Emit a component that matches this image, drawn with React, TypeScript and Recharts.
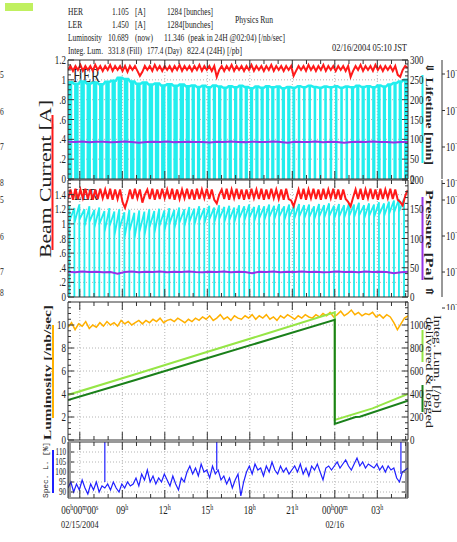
import React from "react";
import { ComposedChart, Line, Area, XAxis, YAxis, CartesianGrid, ReferenceLine } from "recharts";

// time = hours since 02/15/2004 05:10 JST (24H window)
const STEP = 0.175; // sample spacing of the beam current arrays
const hourTicks = Array.from({ length: 24 }, (_, i) => +(0.8333 + i).toFixed(4));
const xMajor = hourTicks.filter((_, i) => i % 3 === 0);
const xTickLabels = ["06h00m00s", "09h", "12h", "15h", "18h", "21h", "00h00m", "03h"];
const xDateLabels = ["02/15/2004", "", "", "", "", "", "02/16", ""];

// HER: injection stripes [start, end] (lifetime reads 0 while injecting)
const herStripes = [
  [0.0, 0.3], [0.43, 0.75], [0.87, 1.19], [1.31, 1.62], [1.75, 2.07], [2.19, 2.5], [2.63, 2.95], [3.07, 3.38], [3.5, 3.82], [3.94, 4.26],
  [4.38, 4.69], [4.81, 5.13], [5.25, 5.56], [5.69, 6.01], [6.13, 6.44], [6.57, 6.88], [7.0, 7.32], [7.44, 7.75], [7.88, 8.19], [8.31, 8.6],
  [8.72, 8.96], [9.1, 9.33], [9.47, 9.7], [9.84, 10.07], [10.22, 10.45], [10.59, 10.82], [10.97, 11.2], [11.34, 11.57], [11.72, 11.95], [12.09, 12.32],
  [12.47, 12.7], [12.84, 13.07], [13.22, 13.45], [13.59, 13.82], [13.97, 14.2], [14.34, 14.57], [14.72, 14.95], [15.09, 15.32], [15.47, 15.7], [15.84, 16.04],
  [16.22, 16.4], [16.59, 16.77], [16.97, 17.15], [17.34, 17.52], [17.72, 17.9], [18.09, 18.27], [18.47, 18.65], [18.84, 19.02], [19.22, 19.4], [19.59, 19.77],
  [19.97, 20.2], [20.34, 20.57], [20.72, 20.95], [21.09, 21.32], [21.47, 21.7], [21.84, 22.07], [22.22, 22.45], [22.59, 22.82], [22.97, 23.2], [23.34, 23.57],
  [23.72, 24.0],
];
// HER lifetime [min] per stripe
const herLife = [
  244, 240, 246, 241, 243, 239, 245, 248, 255, 252, 246, 240, 243, 238, 241, 236, 239, 235, 238, 234,
  236, 232, 235, 231, 236, 233, 230, 234, 231, 235, 232, 229, 233, 230, 234, 231, 233, 229, 232, 230,
  234, 231, 235, 232, 230, 233, 231, 234, 230, 233, 231, 235, 232, 234, 231, 236, 233, 238, 242, 246, 250,
];
// HER beam current [A], every STEP hours
const herCurrent = [
  1.1, 1.14, 1.09, 1.14, 1.1, 1.15, 1.09, 1.14, 1.1, 1.14, 1.09, 1.15, 1.1, 1.14, 1.09, 1.14, 1.1, 1.15, 1.09, 1.14,
  1.1, 1.14, 1.09, 1.14, 1.08, 1.14, 1.1, 1.14, 1.09, 1.04, 1.08, 1.14, 1.1, 1.14, 1.09, 1.15, 1.1, 1.14, 1.09, 1.14,
  1.1, 1.14, 1.09, 1.14, 1.1, 1.15, 1.09, 1.14, 1.1, 1.14, 1.09, 1.14, 1.1, 1.15, 1.09, 1.14, 1.1, 1.14, 1.09, 1.14,
  1.03, 1.1, 1.14, 1.09, 1.14, 1.1, 1.15, 1.09, 1.14, 1.1, 1.14, 1.09, 1.14, 1.1, 1.15, 1.09, 1.14, 1.1, 1.14, 1.09,
  1.14, 1.1, 1.15, 1.09, 1.14, 1.1, 1.14, 1.09, 1.14, 1.1, 1.14, 1.04, 1.09, 1.14, 1.1, 1.14, 1.09, 1.15, 1.1, 1.14,
  1.09, 1.14, 1.1, 1.15, 1.09, 1.14, 1.1, 1.14, 1.09, 1.14, 1.1, 1.14, 1.09, 1.14, 1.03, 1.09, 1.14, 1.1, 1.15, 1.09,
  1.14, 1.1, 1.14, 1.09, 1.15, 1.1, 1.14, 1.09, 1.14, 1.1, 1.14, 1.09, 1.14, 1.05, 1.03, 1.1, 1.14, 1.12,
];
// HER pressure [x1e-7 Pa], every 0.5 h
const herPress = [
  1.4, 1.37, 1.41, 1.36, 1.39, 1.4, 1.34, 1.38, 1.41, 1.37,
  1.3, 1.38, 1.4, 1.37, 1.41, 1.36, 1.38, 1.4, 1.37, 1.38,
  1.32, 1.4, 1.37, 1.41, 1.38, 1.36, 1.4, 1.37, 1.38, 1.41,
  1.37, 1.3, 1.4, 1.37, 1.38, 1.41, 1.36, 1.4, 1.37, 1.31,
  1.38, 1.4, 1.37, 1.41, 1.37, 1.38, 1.32, 1.37, 1.38,
];

// LER beam current [A], every STEP hours
const lerCurrent = [
  1.34, 1.47, 1.33, 1.48, 1.34, 1.47, 1.35, 1.48, 1.34, 1.47, 1.33, 1.47, 1.34, 1.48, 1.35, 1.47, 1.34, 1.48, 1.33, 1.47,
  1.34, 1.47, 1.3, 1.22, 1.33, 1.47, 1.34, 1.48, 1.35, 1.47, 1.29, 1.4, 1.47, 1.34, 1.48, 1.33, 1.47, 1.34, 1.48, 1.35,
  1.47, 1.34, 1.48, 1.33, 1.47, 1.34, 1.47, 1.35, 1.48, 1.34, 1.47, 1.33, 1.48, 1.34, 1.47, 1.35, 1.48, 1.34, 1.47, 1.33,
  1.28, 1.4, 1.47, 1.34, 1.48, 1.33, 1.47, 1.35, 1.48, 1.34, 1.47, 1.33, 1.47, 1.34, 1.48, 1.35, 1.47, 1.34, 1.48, 1.33,
  1.47, 1.34, 1.48, 1.35, 1.47, 1.34, 1.47, 1.33, 1.48, 1.34, 1.32, 1.24, 1.35, 1.47, 1.34, 1.48, 1.33, 1.47, 1.35, 1.48,
  1.34, 1.47, 1.33, 1.48, 1.34, 1.47, 1.35, 1.48, 1.34, 1.47, 1.33, 1.47, 1.34, 1.3, 1.24, 1.36, 1.47, 1.34, 1.48, 1.33,
  1.47, 1.35, 1.48, 1.34, 1.47, 1.33, 1.48, 1.34, 1.47, 1.35, 1.48, 1.34, 1.47, 1.33, 1.3, 1.25, 1.38, 1.46,
];
// LER injections: time, lifetime [min] just before and just after
const lerInj = [
  0.1, 0.45, 0.8, 1.16, 1.51, 1.86, 2.21, 2.57, 2.92, 3.27, 3.62, 3.98, 4.33, 4.68, 5.03, 5.39, 5.74, 6.09, 6.44, 6.8,
  7.15, 7.5, 7.85, 8.21, 8.56, 8.91, 9.26, 9.62, 9.97, 10.32, 10.67, 11.03, 11.38, 11.73, 12.08, 12.44, 12.79, 13.14, 13.49, 13.85,
  14.2, 14.55, 14.9, 15.26, 15.61, 15.96, 16.31, 16.67, 17.02, 17.37, 17.72, 18.08, 18.43, 18.78, 19.13, 19.49, 19.84, 20.19, 20.54, 20.9,
  21.25, 21.6, 21.95, 22.31, 22.66, 23.01, 23.36, 23.72,
];
const lerLifeBefore = [
  156, 152, 158, 150, 155, 149, 153, 147, 152, 146, 150, 145, 149, 144, 148, 146, 150, 147, 151, 148,
  152, 149, 153, 150, 154, 151, 155, 152, 156, 153, 157, 154, 156, 153, 157, 155, 158, 154, 157, 155,
  158, 156, 159, 155, 158, 156, 159, 157, 158, 155, 159, 157, 160, 156, 159, 157, 160, 158, 161, 157,
  160, 158, 162, 160, 163, 165, 167, 168,
];
const lerLifeAfter = [
  130, 126, 132, 120, 128, 118, 124, 110, 120, 104, 116, 100, 112, 98, 110, 104, 118, 108, 120, 112,
  124, 116, 126, 120, 128, 122, 130, 125, 132, 127, 133, 128, 131, 127, 134, 130, 135, 129, 134, 131,
  136, 132, 137, 131, 136, 133, 137, 134, 136, 132, 137, 135, 138, 133, 137, 135, 138, 136, 139, 134,
  138, 136, 140, 138, 142, 144, 146, 148,
];
// LER pressure [x1e-7 Pa], every 0.5 h
const lerPress = [
  1.02, 0.98, 1.04, 1.0, 1.02, 0.98, 1.0, 0.9, 1.0, 1.04,
  0.98, 1.02, 1.0, 1.04, 0.98, 1.02, 1.0, 1.04, 1.0, 0.98,
  1.02, 1.0, 1.04, 0.98, 1.02, 1.0, 0.93, 1.02, 1.0, 1.04,
  0.98, 1.02, 1.0, 1.04, 1.0, 1.02, 0.98, 1.0, 1.04, 1.0,
  1.02, 0.98, 1.04, 1.0, 1.02, 1.0, 0.93, 0.98, 1.02,
];

// Luminosity [/nb/sec], every 0.25 h
const luminosity = [
  9.8, 10.2, 9.6, 10.1, 9.9, 10.3, 9.7, 10.0, 9.8,
  10.2, 9.9, 10.3, 10.0, 10.2, 9.9, 10.4, 10.1, 10.3, 10.0, 10.2, 10.4,
  10.1, 10.4, 10.2, 10.5, 10.3, 10.6, 10.2, 10.4, 10.5, 10.3, 10.6, 10.4, 10.2, 10.5, 10.3, 10.6,
  10.4, 10.7, 10.5, 10.8, 10.4, 10.6, 10.9, 10.5, 10.7, 10.4, 10.8, 10.6, 10.5, 10.8, 10.6, 10.9,
  10.5, 10.8, 10.6, 10.9, 10.5, 10.7, 10.4, 10.8, 10.6, 10.9, 10.7, 10.5, 10.8, 10.6, 10.9, 10.7,
  10.6, 10.9, 10.7, 11.0, 10.8, 11.1, 10.7, 10.9, 11.2, 10.8, 11.0, 11.3, 10.9, 11.1, 10.8, 11.0,
  10.9, 11.1, 10.7, 10.9, 10.6, 10.9, 10.7, 10.2, 9.6, 10.1, 10.6, 10.8,
];
// Integrated luminosity [/pb]: [time, value]
const integDelivered = [[0, 392], [4.7, 570], [9.4, 750], [14.1, 928], [18.83, 1110], [18.83, 175], [21.5, 275], [24, 400]];
const integLogged = [[0, 348], [4.7, 520], [9.4, 695], [14.1, 870], [18.83, 1045], [18.83, 140], [20.3, 200], [20.6, 202], [24, 342]];

// Specific luminosity [%], every 0.2 h
const specL = [
  92, 95, 90, 94, 91, 96, 92, 89, 94, 91, 95, 90, 93, 92,
  94, 91, 95, 92, 90, 94, 92, 95, 93,
  94, 97, 93, 99, 96, 101, 95, 98, 94, 97, 95, 99,
  96, 93, 98, 94, 91, 97, 95,
  100, 103, 99, 102, 98, 104, 100, 101, 97, 103, 99, 101,
  96, 98, 94, 97, 92, 96, 99, 88, 95,
  100, 103, 99, 104, 101, 102, 98, 103, 100, 105, 101, 99, 103, 100, 102, 99,
  101, 103, 100, 104, 99, 102, 98, 103, 101, 104, 100, 96, 102, 103, 101,
  103, 105, 102, 104, 106, 103, 101, 104, 107, 103, 105, 102, 104, 103,
  102, 104, 101, 103, 100, 103, 101, 102,
  97, 95, 100, 101, 102,
];
const specSpikes = [[2.6, 95], [10.5, 101], [23.5, 99]];

const herStripeData = herStripes.flatMap(([s, e], i) => [{ t: s, v: herLife[i] }, { t: e, v: 0 }]);
const herLifeData = herStripes.flatMap(([s, e], i) => [{ t: s, v: herLife[i] }, { t: e, v: herLife[i] }]);
const herCurData = herCurrent.map((v, i) => ({ t: i * STEP, v }));
const herPressData = herPress.map((v, i) => ({ t: i * 0.5, v: v * 1e-7 }));
const lerCurData = lerCurrent.map((v, i) => ({ t: i * STEP, v }));
const lerLifeData = lerInj.flatMap((t, i) => [{ t, v: lerLifeBefore[i] }, { t, v: 0 }, { t, v: lerLifeAfter[i] }]);
const lerPressData = lerPress.map((v, i) => ({ t: i * 0.5, v: v * 1e-7 }));
const lumData = luminosity.map((v, i) => ({ t: i * 0.25, v }));
const delivData = integDelivered.map(([t, v]) => ({ t, v }));
const loggedData = integLogged.map(([t, v]) => ({ t, v }));
const specData = specL.map((v, i) => ({ t: i * 0.2, v }));

const SERIF = "'Liberation Serif', 'DejaVu Serif', serif";
const INK = "#222";
const FRAME = "#333";
const GRID = "#b4b4b4";
const RED = "#ff1a1a";
const CYAN = "#22eeee";
const PURPLE = "#9632e6";
const ORANGE = "#ffb000";
const LGREEN = "#96e646";
const DGREEN = "#1a801a";
const BLUE = "#2020ff";

const range = (a: number, b: number, s: number) => {
  const out: number[] = [];
  for (let v = a; v <= b + 1e-9; v += s) out.push(+v.toFixed(4));
  return out;
};
const fmtA = (v: number) => {
  const s = String(+v.toFixed(2));
  return s.startsWith("0.") ? s.slice(1) : s;
};

const Sq = ({ x, y, size = 10, anchor = "start", weight = "normal", len, children }: any) => (
  <text
    transform={`translate(${x},${y}) scale(0.75,1)`}
    fontSize={size}
    textAnchor={anchor}
    fontWeight={weight}
    fontFamily={SERIF}
    fill={INK}
    {...(len ? { textLength: len / 0.75, lengthAdjust: "spacingAndGlyphs" } : {})}
  >
    {children}
  </text>
);
const Rot = ({ x, y, angle, size, len, weight = "normal", family = SERIF, children }: any) => (
  <text transform={`translate(${x},${y}) rotate(${angle}) scale(1,0.75)`} fontSize={size} fontWeight={weight} fontFamily={family} fill={INK} textLength={len} lengthAdjust="spacingAndGlyphs">
    {children}
  </text>
);

const xTick = (dir: number, labels: boolean) => (props: any) => {
  const { x, y, payload } = props;
  const mi = xMajor.findIndex((m) => Math.abs(m - payload.value) < 1e-3);
  const len = mi >= 0 ? 8 : 4;
  const parts = mi >= 0 ? [...xTickLabels[mi].matchAll(/(\d+)([hms])/g)] : [];
  return (
    <g>
      <line x1={x} x2={x} y1={y} y2={y + dir * len} stroke={FRAME} />
      {labels && mi >= 0 && (
        <text transform={`translate(${x},${y + 16}) scale(0.75,1)`} fontSize={12} textAnchor="middle" fontFamily={SERIF} fill={INK}>
          {parts.map((m, k) => (
            <React.Fragment key={k}>
              <tspan dy={k ? 4 : 0}>{m[1]}</tspan>
              <tspan dy={-4} fontSize={8}>{m[2]}</tspan>
            </React.Fragment>
          ))}
        </text>
      )}
      {labels && mi >= 0 && xDateLabels[mi] && (
        <text transform={`translate(${x},${y + 30}) scale(0.75,1)`} fontSize={11} textAnchor="middle" fontFamily={SERIF} fill={INK}>
          {xDateLabels[mi]}
        </text>
      )}
    </g>
  );
};

const yTick = (side: "left" | "right", majors: number[], fmt: ((v: number) => string) | null, size = 12) => (props: any) => {
  const { x, y, payload } = props;
  const v = payload.value;
  const major = majors.some((m) => Math.abs(m - v) < 1e-6);
  const dir = side === "left" ? 1 : -1;
  const len = major ? 6 : 3;
  const label = major && fmt ? fmt(v) : "";
  return (
    <g>
      <line x1={x} x2={x + dir * len} y1={y} y2={y} stroke={FRAME} />
      {label && (
        <text transform={`translate(${side === "left" ? x - 2 : x + 2},${y + size / 3}) scale(0.75,1)`} textAnchor={side === "left" ? "end" : "start"} fontSize={size} fontFamily={SERIF} fill={INK}>
          {label}
        </text>
      )}
    </g>
  );
};

const logTick = (props: any) => {
  const { x, y, payload } = props;
  const exp = Math.round(Math.log10(payload.value));
  return (
    <g>
      <line x1={x} x2={x + 3} y1={y} y2={y} stroke={FRAME} />
      <text transform={`translate(${x + 4},${y + 4}) scale(0.75,1)`} fontSize={12} fontFamily={SERIF} fill={INK}>
        10<tspan dy={-5} fontSize={8}>{`\u2212${-exp}`}</tspan>
      </text>
    </g>
  );
};

const timeAxes = (labels: boolean) => [
  <XAxis key="xb" xAxisId={0} type="number" dataKey="t" domain={[0, 24]} allowDataOverflow ticks={hourTicks} interval={0} height={1} tickSize={0} tickMargin={0} tickLine={false} axisLine={{ stroke: FRAME }} tick={xTick(-1, labels)} />,
  <XAxis key="xt" xAxisId="top" orientation="top" type="number" dataKey="t" domain={[0, 24]} allowDataOverflow ticks={hourTicks} interval={0} height={1} tickSize={0} tickMargin={0} tickLine={false} axisLine={{ stroke: FRAME }} tick={xTick(1, false)} />,
];

const axisBase = { interval: 0 as const, tickSize: 0, tickMargin: 0, tickLine: false, axisLine: { stroke: FRAME }, allowDataOverflow: true, type: "number" as const };

export default function App() {
  return (
    <div style={{ position: "absolute", left: 0, top: 0, width: 457, height: 542, background: "#fff" }}>
      <svg width={457} height={542} style={{ position: "absolute", left: 0, top: 0 }}>
        <rect x={5} y={3} width={28} height={8} fill="#c0f060" />
        <Sq x={68} y={15}>HER</Sq>
        <Sq x={112} y={15}>1.105</Sq>
        <Sq x={135} y={15}>[A]</Sq>
        <Sq x={167} y={15} len={46}>1284 [bunches]</Sq>
        <Sq x={68} y={28}>LER</Sq>
        <Sq x={112} y={28}>1.450</Sq>
        <Sq x={135} y={28}>[A]</Sq>
        <Sq x={167} y={28} len={46}>1284[bunches]</Sq>
        <Sq x={235} y={23} len={38}>Physics Run</Sq>
        <Sq x={68} y={41} len={34}>Luminosity</Sq>
        <Sq x={108} y={41}>10.689</Sq>
        <Sq x={135} y={41}>(now)</Sq>
        <Sq x={164} y={41}>11.346</Sq>
        <Sq x={188} y={41} len={97}>(peak in 24H @02:04) [/nb/sec]</Sq>
        <Sq x={68} y={54} len={35}>Integ. Lum.</Sq>
        <Sq x={108} y={54} len={34}>331.8 (Fill)</Sq>
        <Sq x={147} y={54} len={35}>177.4 (Day)</Sq>
        <Sq x={187} y={54} len={55}>822.4 (24H) [/pb]</Sq>
        <Sq x={332} y={51} size={11} len={75}>02/16/2004 05:10 JST</Sq>

        <Sq x={73} y={82} size={18}>HER</Sq>
        <Sq x={74} y={200} size={17}>LER</Sq>

        {[["5", 78], ["6", 115], ["7", 150], ["8", 186], ["5", 203], ["6", 240], ["7", 275], ["8", 296]].map(([d, y], i) => (
          <Sq key={i} x={0} y={y} size={10}>{d}</Sq>
        ))}

        <Rot x={51} y={258} angle={-90} size={21} len={158}>Beam Current [A]</Rot>
        <line x1={52.5} x2={52.5} y1={115} y2={250} stroke={RED} strokeWidth={2} />
        <Rot x={51} y={440} angle={-90} size={15} len={135} weight="bold">Luminosity [/nb/sec]</Rot>
        <line x1={53} x2={53} y1={325} y2={418} stroke={ORANGE} strokeWidth={2} />
        <Rot x={48} y={498} angle={-90} size={9.5} len={56} family="'Liberation Mono', monospace">Spec. L. [%]</Rot>
        <line x1={53} x2={53} y1={450} y2={493} stroke={BLUE} strokeWidth={2} />

        <Rot x={426} y={62} angle={90} size={14} len={103} weight="bold">{"\u21d3 Lifetime [min]"}</Rot>
        <line x1={422.5} x2={422.5} y1={75} y2={163} stroke={CYAN} strokeWidth={2} />
        <Rot x={426} y={190} angle={90} size={14} len={108} weight="bold">{"Pressure [Pa] \u21d1"}</Rot>
        <line x1={422.5} x2={422.5} y1={197} y2={280} stroke={PURPLE} strokeWidth={2} />
        <Rot x={434} y={315} angle={90} size={13} len={98}>Integ. Lum. [/pb]</Rot>
        <Rot x={426} y={317} angle={90} size={13} len={111}>{"delivered & logged"}</Rot>
        <line x1={422.5} x2={422.5} y1={330} y2={362} stroke={LGREEN} strokeWidth={2} />
        <line x1={422.5} x2={422.5} y1={385} y2={412} stroke={DGREEN} strokeWidth={2} />
      </svg>

      {/* HER */}
      <div style={{ position: "absolute", left: 0, top: 50 }}>
        <ComposedChart width={457} height={140} margin={{ top: 9, right: 0, bottom: 10, left: 28 }}>
          <CartesianGrid stroke={GRID} strokeDasharray="1 2" horizontalValues={[0.2, 0.4, 0.6, 0.8, 1.0]} verticalValues={xMajor} />
          {timeAxes(false)}
          <YAxis yAxisId={0} width={40} domain={[0, 1.2]} ticks={range(0, 1.2, 0.05)} tick={yTick("left", range(0, 1.2, 0.2), fmtA)} {...axisBase} />
          <YAxis yAxisId="a" orientation="right" width={34} domain={[0, 300]} ticks={range(0, 300, 10)} tick={yTick("right", range(0, 300, 50), String)} {...axisBase} />
          <YAxis yAxisId="b" orientation="right" width={15} scale="log" domain={[10 ** -7.877, 10 ** -4.616]} ticks={[1e-5, 1e-6, 1e-7, 1e-8]} tick={logTick} {...axisBase} />
          <Area yAxisId="a" data={herStripeData} dataKey="v" type="stepAfter" stroke="none" fill={CYAN} fillOpacity={1} isAnimationActive={false} />
          <Line yAxisId="a" data={herLifeData} dataKey="v" type="linear" stroke={CYAN} strokeWidth={2.5} dot={false} isAnimationActive={false} />
          <Line yAxisId={0} data={herCurData} dataKey="v" type="linear" stroke={RED} strokeWidth={2} dot={false} isAnimationActive={false} />
          <Line yAxisId="b" data={herPressData} dataKey="v" type="linear" stroke={PURPLE} strokeWidth={2} dot={false} isAnimationActive={false} />
        </ComposedChart>
      </div>

      {/* LER */}
      <div style={{ position: "absolute", left: 0, top: 170 }}>
        <ComposedChart width={457} height={140} margin={{ top: 9, right: 0, bottom: 12, left: 28 }}>
          <CartesianGrid stroke={GRID} strokeDasharray="1 2" horizontalValues={[0.2, 0.4, 0.6, 0.8, 1.0, 1.2, 1.4]} verticalValues={xMajor} />
          {timeAxes(false)}
          <YAxis yAxisId={0} width={40} domain={[0, 1.6]} ticks={range(0, 1.6, 0.05)} tick={yTick("left", range(0, 1.4, 0.2), fmtA)} {...axisBase} />
          <YAxis yAxisId="a" orientation="right" width={34} domain={[0, 200]} ticks={range(0, 200, 10)} tick={yTick("right", range(0, 200, 50), String)} {...axisBase} />
          <YAxis yAxisId="b" orientation="right" width={15} scale="log" domain={[10 ** -7.694, 10 ** -4.444]} ticks={[1e-5, 1e-6, 1e-7, 1e-8]} tick={logTick} {...axisBase} />
          <Line yAxisId="a" data={lerLifeData} dataKey="v" type="linear" stroke={CYAN} strokeWidth={1.8} dot={false} isAnimationActive={false} />
          <Line yAxisId={0} data={lerCurData} dataKey="v" type="linear" stroke={RED} strokeWidth={2} dot={false} isAnimationActive={false} />
          <Line yAxisId="b" data={lerPressData} dataKey="v" type="linear" stroke={PURPLE} strokeWidth={2} dot={false} isAnimationActive={false} />
        </ComposedChart>
      </div>

      {/* Luminosity */}
      <div style={{ position: "absolute", left: 0, top: 292 }}>
        <ComposedChart width={457} height={160} margin={{ top: 9, right: 15, bottom: 11, left: 28 }}>
          <CartesianGrid stroke={GRID} strokeDasharray="1 2" horizontalValues={[2, 4, 6, 8, 10]} verticalValues={xMajor} />
          {timeAxes(false)}
          <YAxis yAxisId={0} width={40} domain={[0, 12]} ticks={range(0, 12, 0.5)} tick={yTick("left", range(0, 10, 2), String)} {...axisBase} />
          <YAxis yAxisId="a" orientation="right" width={34} domain={[0, 1200]} ticks={range(0, 1200, 50)} tick={yTick("right", range(0, 1000, 200), String)} {...axisBase} />
          <Line yAxisId={0} data={lumData} dataKey="v" type="linear" stroke={ORANGE} strokeWidth={1.5} dot={false} isAnimationActive={false} />
          <Line yAxisId="a" data={delivData} dataKey="v" type="linear" stroke={LGREEN} strokeWidth={2} dot={false} isAnimationActive={false} />
          <Line yAxisId="a" data={loggedData} dataKey="v" type="linear" stroke={DGREEN} strokeWidth={2} dot={false} isAnimationActive={false} />
        </ComposedChart>
      </div>

      {/* Specific luminosity */}
      <div style={{ position: "absolute", left: 0, top: 432 }}>
        <ComposedChart width={457} height={110} margin={{ top: 9, right: 15, bottom: 43, left: 28 }}>
          <CartesianGrid stroke={GRID} strokeDasharray="1 2" horizontalValues={[90, 95, 100, 105, 110]} verticalValues={xMajor} />
          {timeAxes(true)}
          <YAxis yAxisId={0} width={40} domain={[87, 115]} ticks={range(88, 114, 1)} tick={yTick("left", [90, 95, 100, 105, 110], String, 9.5)} {...axisBase} />
          <YAxis yAxisId="a" orientation="right" width={34} domain={[87, 115]} ticks={range(88, 114, 1)} tick={yTick("right", [90, 95, 100, 105, 110], null)} {...axisBase} />
          <Line yAxisId={0} data={specData} dataKey="v" type="linear" stroke={BLUE} strokeWidth={1.2} dot={false} isAnimationActive={false} />
          {specSpikes.map(([t, v], i) => (
            <ReferenceLine key={i} yAxisId={0} segment={[{ x: t, y: v }, { x: t, y: 115 }]} stroke={BLUE} strokeWidth={1.2} />
          ))}
        </ComposedChart>
      </div>
    </div>
  );
}
